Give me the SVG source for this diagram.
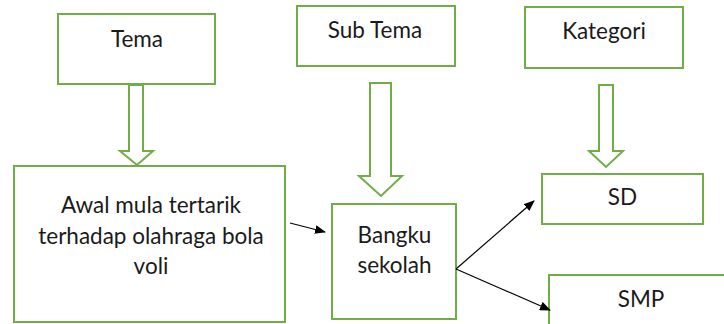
<svg xmlns="http://www.w3.org/2000/svg" width="724" height="324" viewBox="0 0 724 324">
<style>
.box{fill:#fff;stroke:#70AD47;stroke-width:2}
.blk{fill:#fff;stroke:#70AD47;stroke-width:2;stroke-linejoin:miter}
.t{font-family:Lato,"Open Sans",sans-serif;font-size:22.5px;fill:#1a1a1a;text-anchor:middle}
.c{stroke:#000;stroke-width:1.2;fill:none}
</style>
<defs>
<marker id="ah" viewBox="0 0 11 9" refX="10" refY="4.5" markerWidth="11" markerHeight="9" markerUnits="userSpaceOnUse" orient="auto">
<path d="M0,0 L11,4.5 L0,9 Z" fill="#000"/>
</marker>
</defs>
<rect width="724" height="324" fill="#fff"/>
<g id="tema"><rect class="box" x="58" y="14" width="157" height="70"/><text class="t" x="137" y="47">Tema</text></g>
<g id="subtema"><rect class="box" x="297" y="6" width="158" height="60"/><text class="t" x="375" y="38">Sub Tema</text></g>
<g id="kategori"><rect class="box" x="525" y="7" width="158" height="61"/><text class="t" x="604" y="39">Kategori</text></g>
<g id="awal"><rect class="box" x="14" y="166" width="271" height="156"/>
<text class="t" x="151" y="213">Awal mula tertarik</text>
<text class="t" x="151" y="244">terhadap olahraga bola</text>
<text class="t" x="151" y="274">voli</text></g>
<g id="bangku"><rect class="box" x="332" y="204" width="124" height="115"/>
<text class="t" x="394.5" y="243">Bangku</text>
<text class="t" x="394.5" y="273">sekolah</text></g>
<g id="sd"><rect class="box" x="542" y="174" width="161" height="50"/><text class="t" x="622.5" y="205">SD</text></g>
<g id="smp"><rect class="box" x="549" y="275" width="185" height="60"/><text class="t" x="641" y="307">SMP</text></g>
<g id="connectors">
<path class="blk" d="M129,85 H143 V151 H153 L137,165 L120,151 H129 Z"/>
<path class="blk" d="M370,83 H391 V176 H402 L381,196 L359,176 H370 Z"/>
<path class="blk" d="M599,85 H613 V151 H623 L606,167 L589,151 H599 Z"/>
<line class="c" x1="290" y1="223" x2="325" y2="232" marker-end="url(#ah)"/>
<line class="c" x1="456" y1="269" x2="534" y2="201" marker-end="url(#ah)"/>
<line class="c" x1="456" y1="269" x2="550" y2="310" marker-end="url(#ah)"/>
</g>
</svg>
